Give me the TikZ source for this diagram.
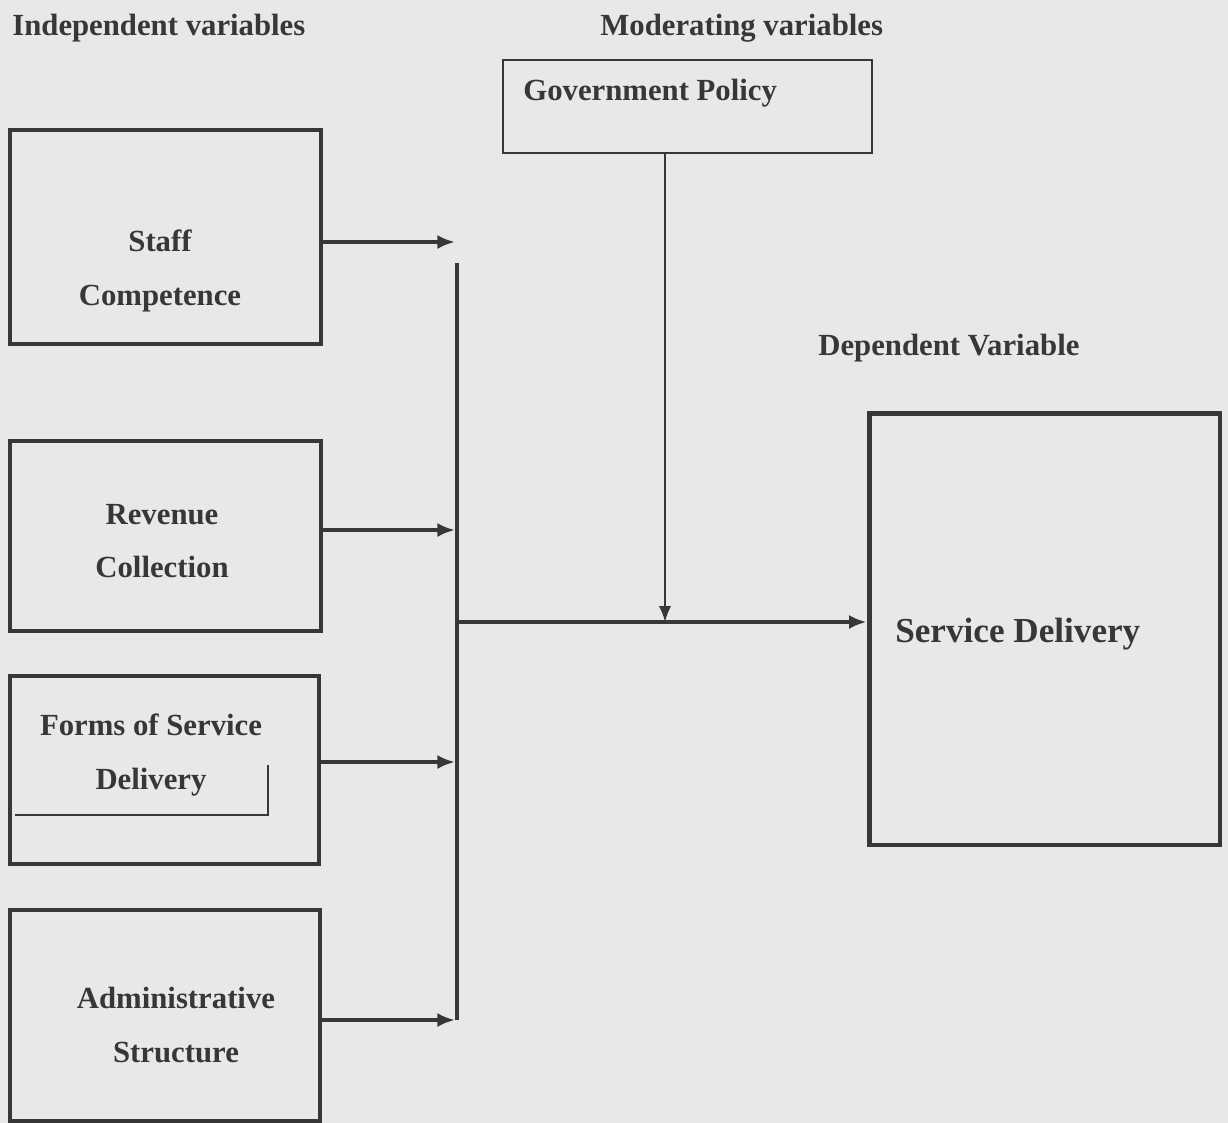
\documentclass[tikz,border=0pt]{standalone}
\usepackage{fontspec}
\setmainfont{Liberation Serif}
\usetikzlibrary{arrows.meta}
\definecolor{paper}{RGB}{232,232,232}
\definecolor{ink}{RGB}{55,55,55}

\begin{document}
\begin{tikzpicture}[
  x=0.02cm, y=-0.02cm,
  box/.style={draw=ink, line width=2.8pt, inner sep=0pt},
  thinbox/.style={draw=ink, line width=1.1pt, inner sep=0pt},
  lbl/.style={text=ink, font=\fontsize{17.5}{30.6}\selectfont\bfseries, align=center, inner sep=0pt},
  head/.style={lbl, anchor=west},
  feed/.style={draw=ink, line width=2.2pt, -{Latex[length=10pt,width=8pt]}},
  thinfeed/.style={draw=ink, line width=1.2pt, -{Latex[length=9pt,width=7pt]}}
]
  \fill[paper] (0,0) rectangle (1228,1123);
  \useasboundingbox (0,0) rectangle (1228,1123);

  \node[head] (indep) at (12,28) {Independent variables};
  \node[head] (moder) at (600,28) {Moderating variables};
  \node[head] (dep) at (818,348) {Dependent Variable};

  \node[thinbox,minimum width=7.38cm,minimum height=1.86cm] (gov) at (687.5,106.5) {};
  \node[head] (govTxt) at (523,93) {Government Policy};

  \node[box,minimum width=6.22cm,minimum height=4.28cm] (staff) at (165.5,237) {};
  \node[box,minimum width=6.22cm,minimum height=3.8cm] (revenue) at (165.5,536) {};
  \node[box,minimum width=6.18cm,minimum height=3.76cm] (forms) at (164.5,770) {};
  \node[box,minimum width=6.2cm,minimum height=4.22cm] (admin) at (165,1015.5) {};
  \node[box,minimum width=7.02cm,minimum height=8.64cm] (service) at (1044.5,629) {};

  \node[lbl] (staffTxt) at (160,271) {Staff\\Competence};
  \node[lbl] (revenueTxt) at (162,541) {Revenue\\Collection};
  \node[lbl] (formsTxt) at (151,755) {Forms of Service\\Delivery};
  \node[lbl] (adminTxt) at (176,1025) {Administrative\\Structure};
  \node[lbl,font=\fontsize{20}{24}\selectfont\bfseries,anchor=west] (serviceTxt) at (895,634) {Service Delivery};

  \draw[ink,line width=0.8pt] (15,815) -- (268,815) -- (268,765);

  \coordinate (busTop) at (457,263);
  \coordinate (busBot) at (457,1020);
  \coordinate (staffIn) at (455,242);
  \coordinate (revIn) at (455,530);
  \coordinate (formsIn) at (455,762);
  \coordinate (adminIn) at (455,1020);
  \coordinate (join) at (457,622);
  \coordinate (govIn) at (665,622);

  \draw[ink,line width=2.2pt] (busTop) -- (busBot);
  \draw[feed] (staff.east |- staffIn) -- (staffIn);
  \draw[feed] (revenue.east |- revIn) -- (revIn);
  \draw[feed] (forms.east |- formsIn) -- (formsIn);
  \draw[feed] (admin.east |- adminIn) -- (adminIn);
  \draw[feed] (join) -- (service.west |- join);
  \draw[thinfeed] (gov.south -| govIn) -- (govIn);
\end{tikzpicture}
\end{document}
